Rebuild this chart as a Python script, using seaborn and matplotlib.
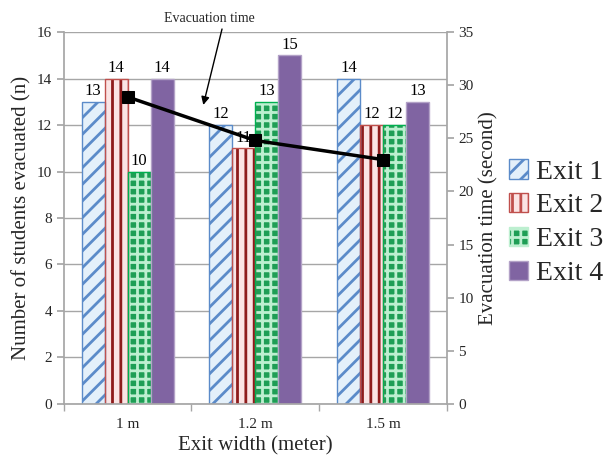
import matplotlib
matplotlib.use("Agg")
import matplotlib.pyplot as plt
import seaborn as sns
import pandas as pd
import numpy as np

widths = ["1 m", "1.2 m", "1.5 m"]
exits = ["Exit 1", "Exit 2", "Exit 3", "Exit 4"]
students = {
    "Exit 1": [13, 12, 14],
    "Exit 2": [14, 11, 12],
    "Exit 3": [10, 13, 12],
    "Exit 4": [14, 15, 13],
}
evac_time = [28.9, 24.8, 23.0]

sns.set_theme(style="white")
plt.rcParams['font.family'] = ['Liberation Serif', 'DejaVu Serif']
plt.rcParams['hatch.linewidth'] = 2.0

rows = []
for e in exits:
    for w, v in zip(widths, students[e]):
        rows.append({"width": w, "exit": e, "n": v})
df = pd.DataFrame(rows)

faces = {"Exit 1": "#E4F0FA", "Exit 2": "#FBE4E4", "Exit 3": "#1E9E55", "Exit 4": "#8064A2"}
hatchc = {"Exit 1": "#5B8BC9", "Exit 2": "#8E1B1B", "Exit 3": "#BDEFD0", "Exit 4": "#B3A2C7"}
hatches = {"Exit 1": "//", "Exit 2": "||", "Exit 3": "++", "Exit 4": ""}
borders = {"Exit 1": "#5B8BC9", "Exit 2": "#C0504D", "Exit 3": "#00B050", "Exit 4": "#B3A2C7"}

fig = plt.figure(figsize=(6.07, 4.59), dpi=100)
ax = fig.add_axes([0.105, 0.120, 0.631, 0.810])

sns.barplot(data=df, x="width", y="n", hue="exit", order=widths, hue_order=exits,
            width=0.72, ax=ax, palette=[faces[e] for e in exits], saturation=1,
            legend=False)

for cont, e in zip(ax.containers, exits):
    for p in cont:
        p.set_facecolor(faces[e])
        p.set_hatch(hatches[e])
        p.set_edgecolor(hatchc[e])
        p.set_linewidth(0)
        r = plt.Rectangle(p.get_xy(), p.get_width(), p.get_height(), fill=False,
                          edgecolor=borders[e], linewidth=1.0, zorder=p.get_zorder() + 0.1)
        ax.add_patch(r)
    ax.bar_label(cont, labels=[str(int(v)) for v in students[e]], padding=2,
                 fontsize=12, color="black")

ax.set_ylim(0, 16)
ax.set_yticks(range(0, 17, 2))
ax.set_xlim(-0.5, 2.5)
ax.yaxis.grid(True, color="#A6A6A6", linewidth=1)
ax.set_axisbelow(True)
for s in ["top", "right"]:
    ax.spines[s].set_visible(False)
for s in ["left", "bottom"]:
    ax.spines[s].set_color("#A6A6A6")
ax.tick_params(axis="y", which="major", length=5, color="#A6A6A6", labelsize=11, left=True)
ax.tick_params(axis="x", which="major", length=0, labelsize=11, pad=10)
ax.set_xticks([-0.5, 0.5, 1.5, 2.5], minor=True)
ax.tick_params(axis="x", which="minor", length=5, color="#A6A6A6", bottom=True)
ax.set_xlabel("Exit width (meter)", fontsize=15)
ax.set_ylabel("Number of students evacuated (n)", fontsize=15)

ax2 = ax.twinx()
sns.lineplot(x=list(range(len(widths))), y=evac_time, ax=ax2, color="black",
             linewidth=2.5, marker="s", markersize=9, markeredgecolor="black")
ax2.set_ylim(0, 35)
ax2.set_yticks(range(0, 36, 5))
for s in ["top", "left", "bottom"]:
    ax2.spines[s].set_visible(False)
ax2.spines["right"].set_color("#A6A6A6")
ax2.tick_params(axis="y", length=5, color="#A6A6A6", labelsize=11, right=True)
ax2.set_ylabel("Evacuation time (second)", fontsize=15)
ax2.set_xlim(-0.5, 2.5)

ax.annotate("", xy=(0.588, 12.75), xytext=(0.745, 16.25), annotation_clip=False,
            arrowprops=dict(arrowstyle="-|>", color="black", lw=1, mutation_scale=12))
ax.text(0.64, 16.6, "Evacuation time", ha="center", va="center", fontsize=10, clip_on=False)

handles = []
for e in exits:
    handles.append(matplotlib.patches.Patch(facecolor=faces[e], hatch=hatches[e],
                                            edgecolor=hatchc[e] if e == "Exit 3" else borders[e],
                                            linewidth=1))
leg = fig.legend(handles, exits, loc="center left", bbox_to_anchor=(0.838, 0.515),
                 frameon=False, fontsize=20, handlelength=0.7, handleheight=0.7,
                 handletextpad=0.3, labelspacing=0.3, borderpad=0, borderaxespad=0)

fig.savefig("out.png", dpi=100)
